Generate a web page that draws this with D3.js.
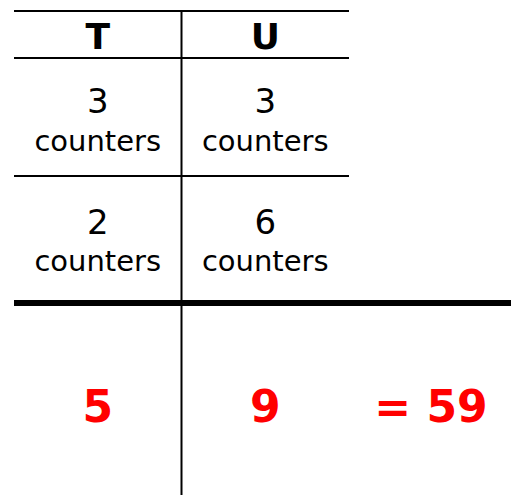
<!DOCTYPE html>
<html>
<head>
<meta charset="utf-8">
<script src="https://cdn.jsdelivr.net/npm/d3@7"></script>
<style>
  html, body { margin: 0; padding: 0; background: #fff; }
  text { font-family: "DejaVu Sans", Verdana, sans-serif; }
</style>
</head>
<body>
<div id="chart"></div>
<script>
var width = 511;
var height = 495;

// place value table data
var columns = ["T", "U"];
var rowTens = [3, 2];
var rowUnits = [3, 6];
var unitLabel = "counters";
var totals = [5, 9];
var result = "= 59";

var svg = d3.select("#chart")
  .append("svg")
  .attr("width", width)
  .attr("height", height);

// column scale for T / U
var x = d3.scaleBand()
  .domain(columns)
  .range([14, 349]);

// horizontal rule positions: top, under header, between rows, total line
var y = d3.scaleOrdinal()
  .domain(["top", "header", "row0", "row1"])
  .range([11, 58, 176, 303]);

var rows = rowTens.map((t, i) => [t, rowUnits[i]]);
var rowTop = (i) => i === 0 ? y("header") : y("row0");

// horizontal lines
svg.append("g")
  .selectAll("line")
  .data(["top", "header", "row0"])
  .join("line")
  .attr("x1", 14)
  .attr("x2", 349)
  .attr("y1", (d) => y(d))
  .attr("y2", (d) => y(d))
  .attr("stroke", "#000")
  .attr("stroke-width", 2);

// thick total line
svg.append("line")
  .attr("x1", 14)
  .attr("x2", width)
  .attr("y1", y("row1"))
  .attr("y2", y("row1"))
  .attr("stroke", "#000")
  .attr("stroke-width", 6);

// column divider
svg.append("line")
  .attr("x1", x("U"))
  .attr("x2", x("U"))
  .attr("y1", y("top"))
  .attr("y2", height)
  .attr("stroke", "#000")
  .attr("stroke-width", 2);

// header
svg.append("g")
  .selectAll("text")
  .data(columns)
  .join("text")
  .attr("x", (d) => x(d) + x.bandwidth() / 2)
  .attr("y", 49)
  .attr("text-anchor", "middle")
  .attr("font-weight", "bold")
  .attr("font-size", 36)
  .text((d) => d);

// rows of counters
rows.forEach((r, i) => {
  var g = svg.append("g");
  var top = rowTop(i);
  g.selectAll("text.num")
    .data(r)
    .join("text")
    .attr("class", "num")
    .attr("x", (d, j) => x(columns[j]) + x.bandwidth() / 2)
    .attr("y", top + (i === 0 ? 55 : 58))
    .attr("text-anchor", "middle")
    .attr("font-size", 34)
    .text((d) => d);
  g.selectAll("text.lab")
    .data(r)
    .join("text")
    .attr("class", "lab")
    .attr("x", (d, j) => x(columns[j]) + x.bandwidth() / 2)
    .attr("y", top + (i === 0 ? 93 : 95))
    .attr("text-anchor", "middle")
    .attr("font-size", 29)
    .text(unitLabel);
});

// totals in red
svg.append("g")
  .selectAll("text")
  .data(totals)
  .join("text")
  .attr("x", (d, j) => x(columns[j]) + x.bandwidth() / 2)
  .attr("y", 422)
  .attr("text-anchor", "middle")
  .attr("font-weight", "bold")
  .attr("font-size", 44)
  .attr("fill", "#ff0000")
  .text((d) => d);

svg.append("text")
  .attr("x", 431)
  .attr("y", 422)
  .attr("text-anchor", "middle")
  .attr("font-weight", "bold")
  .attr("font-size", 44)
  .attr("fill", "#ff0000")
  .text(result);
</script>
</body>
</html>
